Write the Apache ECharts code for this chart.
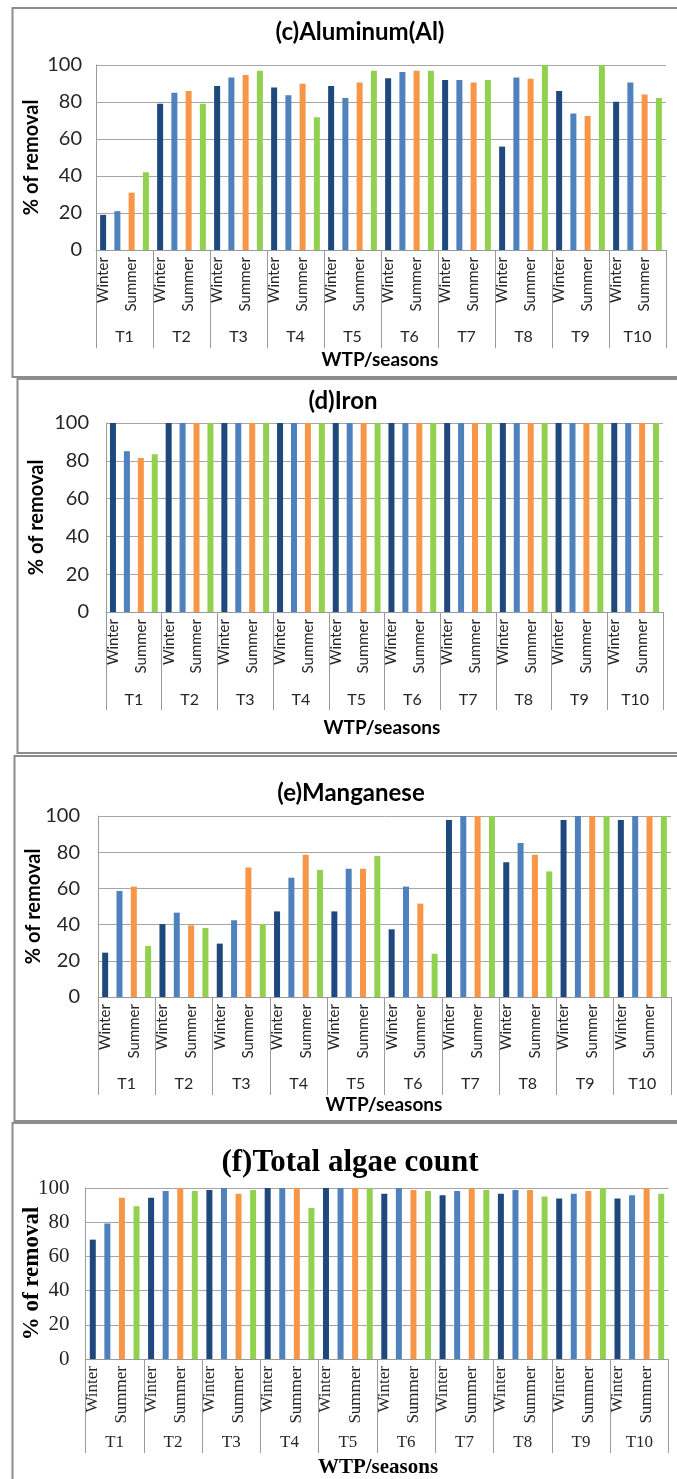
<!DOCTYPE html>
<html>
<head>
<meta charset="utf-8">
<script src="https://cdn.jsdelivr.net/npm/echarts@6/dist/echarts.min.js"></script>
<style>
html,body{margin:0;padding:0;background:#fff;}
#chart{width:677px;height:1479px;}
</style>
</head>
<body>
<div id="chart"></div>
<script>
// ---- data ----
const plants = ['T1','T2','T3','T4','T5','T6','T7','T8','T9','T10'];
const seasonLabels = ['Winter','','Summer',''];
const yTicks = [0,20,40,60,80,100];
const barColors = ['#1F497D','#4F81BD','#F79646','#92D050'];

const titles = ['(c)Aluminum(Al)','(d)Iron','(e)Manganese','(f)Total algae count'];

// Aluminum (c)
const alBar1 = [19, 79, 88.6, 87.9, 88.6, 92.8, 91.9, 55.9, 85.9, 80.1];
const alBar2 = [21, 85, 93.3, 83.7, 82.1, 96.2, 91.9, 93.3, 73.8, 90.6];
const alBar3 = [31, 86, 94.6, 89.9, 90.6, 96.9, 90.6, 92.6, 72.5, 84.1];
const alBar4 = [42, 79, 96.9, 71.8, 96.9, 96.9, 91.9, 100, 100, 82.1];
// Iron (d)
const feBar1 = [100, 100, 100, 100, 100, 100, 100, 100, 100, 100];
const feBar2 = [85, 100, 100, 100, 100, 100, 100, 100, 100, 100];
const feBar3 = [81.5, 100, 100, 100, 100, 100, 100, 100, 100, 100];
const feBar4 = [83.5, 100, 100, 100, 100, 100, 100, 100, 100, 100];
// Manganese (e)
const mnBar1 = [24.5, 40.3, 29.5, 47.3, 47.3, 37.4, 97.8, 74.4, 97.8, 97.8];
const mnBar2 = [58.6, 46.6, 42.4, 65.9, 70.9, 61, 100, 85.1, 100, 100];
const mnBar3 = [61, 39.6, 71.5, 78.6, 70.9, 51.6, 100, 78.6, 100, 100];
const mnBar4 = [28.2, 38.1, 40.3, 70.2, 77.9, 23.9, 100, 69.4, 100, 100];
// Total algae count (f)
const tacBar1 = [69.8, 94.3, 98.8, 100, 100, 96.7, 95.7, 96.7, 93.8, 93.8];
const tacBar2 = [79.3, 98.2, 100, 100, 100, 100, 98.2, 98.8, 96.7, 95.7];
const tacBar3 = [94.3, 100, 96.7, 100, 100, 98.8, 100, 98.8, 98.2, 100];
const tacBar4 = [89.3, 98.2, 98.8, 88.3, 100, 98.2, 98.8, 95.1, 100, 96.7];

const panelData = [
  [alBar1, alBar2, alBar3, alBar4],
  [feBar1, feBar2, feBar3, feBar4],
  [mnBar1, mnBar2, mnBar3, mnBar4],
  [tacBar1, tacBar2, tacBar3, tacBar4]
];

// ---- layout (positions/styles) ----
const SANS = 'Lato';
const SERIF = 'Liberation Serif';
const panels = [
  {left:96,  top:65,   width:570, height:185, titleX:360, titleY:20,   titleSize:24, xNameX:380, xNameY:350,  yNameGap:54, font:SANS,  tick:20, lab:15, tLab:16, tickLen:98, tMargin:79, yMargin:14, nameSize:20, xNameSize:19},
  {left:106, top:423,  width:557, height:189, titleX:343, titleY:389,  titleSize:24, xNameX:382, xNameY:718,  yNameGap:59, font:SANS,  tick:20, lab:15, tLab:16, tickLen:98, tMargin:80, yMargin:17, nameSize:20, xNameSize:19},
  {left:98,  top:816,  width:573, height:181, titleX:351, titleY:781,  titleSize:24, xNameX:384, xNameY:1095, yNameGap:54, font:SANS,  tick:20, lab:15, tLab:16, tickLen:98, tMargin:79, yMargin:18, nameSize:20, xNameSize:19},
  {left:85.5,top:1188, width:583, height:171, titleX:350, titleY:1147, titleSize:31, xNameX:378, xNameY:1457, yNameGap:42, font:SERIF, tick:21, lab:17, tLab:17, tickLen:94, tMargin:75, yMargin:16, nameSize:23, xNameSize:21}
];
const frames = [
  {x:12.5, y:8,    w:700, h:369},
  {x:17.5, y:379,  w:700, h:374},
  {x:14.5, y:756,  w:700, h:365},
  {x:12.5, y:1123, w:700, h:400}
];

const seasonCats = [];
plants.forEach(() => seasonLabels.forEach(s => seasonCats.push(s)));

const grid = [], xAxis = [], yAxis = [], series = [], title = [], graphic = [];
panels.forEach((p, i) => {
  grid.push({left:p.left, top:p.top, width:p.width, height:p.height, containLabel:false});
  const txt = '#262626';
  xAxis.push({
    type:'category', gridIndex:i, data:seasonCats, position:'bottom',
    axisLine:{show:true, lineStyle:{color:'#9a9a9a', width:1}},
    axisTick:{show:false},
    axisLabel:{interval:0, rotate:90, margin:7, fontFamily:p.font, fontSize:p.lab, color:txt}
  });
  xAxis.push({
    type:'category', gridIndex:i, data:plants, position:'bottom', boundaryGap:true,
    axisLine:{show:false},
    axisTick:{show:true, length:p.tickLen, interval:0, lineStyle:{color:'#9a9a9a', width:1}},
    axisLabel:{interval:0, margin:p.tMargin, fontFamily:p.font, fontSize:p.tLab, color:txt},
    splitLine:{show:false}
  });
  yAxis.push({
    type:'value', gridIndex:i, min:yTicks[0], max:yTicks[yTicks.length-1], interval:yTicks[1]-yTicks[0],
    name:'% of removal', nameLocation:'middle', nameGap:p.yNameGap, nameRotate:90,
    nameMoveOverlap:false,
    nameTextStyle:{fontFamily:p.font, fontWeight:'bold', fontSize:p.nameSize, color:'#000'},
    axisLine:{show:true, lineStyle:{color:'#9a9a9a', width:1}},
    axisTick:{show:false},
    axisLabel:{margin:p.yMargin, fontFamily:p.font, fontSize:p.tick, color:txt},
    splitLine:{show:true, lineStyle:{color:'#a6a6a6', width:1}}
  });
  const data = [];
  plants.forEach((pl, g) => {
    for (let k = 0; k < 4; k++) {
      data.push({value: panelData[i][k][g], itemStyle:{color: barColors[k]}});
    }
  });
  series.push({
    type:'bar', xAxisIndex:2*i, yAxisIndex:i, data:data, barWidth:6, animation:false
  });
  title.push({
    text:titles[i], left:p.titleX, top:p.titleY, textAlign:'center', padding:0,
    textStyle:{fontFamily:p.font, fontWeight:'bold', fontSize:p.titleSize, color:'#000'}
  });
  title.push({
    text:'WTP/seasons', left:p.xNameX, top:p.xNameY, textAlign:'center', padding:0,
    textStyle:{fontFamily:p.font, fontWeight:'bold', fontSize:p.xNameSize, color:'#000'}
  });
});
frames.forEach(f => {
  graphic.push({type:'rect', shape:{x:f.x, y:f.y, width:f.w, height:f.h},
    style:{fill:null, stroke:'#8c8c8c', lineWidth:2}, silent:true, z:-1});
});

const chart = echarts.init(document.getElementById('chart'), null, {renderer:'canvas'});
chart.setOption({
  animation:false,
  backgroundColor:'#fff',
  title:title,
  grid:grid, xAxis:xAxis, yAxis:yAxis, series:series, graphic:graphic
});
</script>
</body>
</html>
